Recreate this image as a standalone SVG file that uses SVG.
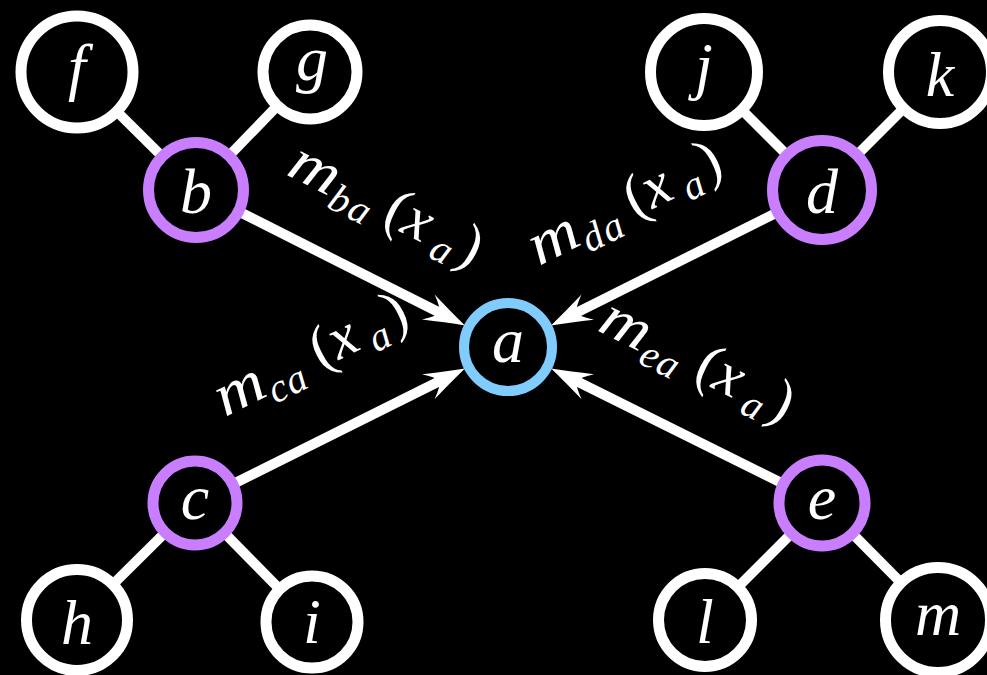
<svg xmlns="http://www.w3.org/2000/svg" width="987" height="675" viewBox="0 0 987 675">
<style>
.bg{fill:#000}
.tree{stroke:#fff;stroke-width:10;fill:none}
.msg{stroke:#fff;stroke-width:10;fill:none;marker-end:url(#ah)}
.wn{fill:#000;stroke:#fff;stroke-width:11}
.pn{fill:#000;stroke:#c87eff;stroke-width:11}
.bn{fill:#000;stroke:#80ccff;stroke-width:10}
.lt{font-family:"Liberation Serif","DejaVu Serif",serif;font-style:italic;font-size:64px;fill:#fff;text-anchor:middle}
.lab{font-family:"Liberation Serif","DejaVu Serif",serif;font-style:italic;font-size:60px;fill:#fff}
.sub{font-size:40px}
.par{font-style:normal}
</style>
<defs>
<marker id="ah" markerUnits="userSpaceOnUse" markerWidth="46" markerHeight="32" viewBox="0 0 46 32" refX="16" refY="16" orient="auto">
<path d="M43,16 Q24,10 2,2 Q12,10 15,16 Q12,22 2,30 Q24,22 43,16 Z" fill="#fff"/>
</marker>
</defs>
<rect class="bg" x="0" y="0" width="987" height="675"/>
<g id="connectors">
<line class="tree" x1="77" y1="72" x2="196" y2="190"/>
<line class="tree" x1="310" y1="72" x2="196" y2="190"/>
<line class="tree" x1="704" y1="72" x2="822" y2="190"/>
<line class="tree" x1="940" y1="72" x2="822" y2="190"/>
<line class="tree" x1="77" y1="620" x2="195" y2="503"/>
<line class="tree" x1="312" y1="622" x2="195" y2="503"/>
<line class="tree" x1="705" y1="620" x2="822" y2="503"/>
<line class="tree" x1="938" y1="620" x2="822" y2="503"/>
<line class="msg" x1="196" y1="190" x2="440.8" y2="313.3"/>
<line class="msg" x1="822" y1="190" x2="575.2" y2="313.4"/>
<line class="msg" x1="195" y1="503" x2="440.8" y2="380.6"/>
<line class="msg" x1="822" y1="503" x2="575.3" y2="380.6"/>
</g>
<g id="labels">
<g transform="translate(285,174) rotate(26.7)">
<text class="lab" x="0" y="0" textLength="50" lengthAdjust="spacingAndGlyphs">m</text>
<text class="lab"><tspan class="sub" x="51" y="11">b</tspan><tspan class="sub" x="73" y="11">a</tspan><tspan class="par" x="107" y="0">(</tspan><tspan x="127" y="0">x</tspan><tspan class="sub" x="164" y="10">a</tspan><tspan class="par" x="189" y="0">)</tspan></text>
</g>
<g transform="translate(539,266) rotate(-26.6)">
<text class="lab" x="0" y="0" textLength="50" lengthAdjust="spacingAndGlyphs">m</text>
<text class="lab"><tspan class="sub" x="51" y="11">d</tspan><tspan class="sub" x="73" y="11">a</tspan><tspan class="par" x="107" y="0">(</tspan><tspan x="127" y="0">x</tspan><tspan class="sub" x="164" y="10">a</tspan><tspan class="par" x="189" y="0">)</tspan></text>
</g>
<g transform="translate(225,417) rotate(-26.5)">
<text class="lab" x="0" y="0" textLength="50" lengthAdjust="spacingAndGlyphs">m</text>
<text class="lab"><tspan class="sub" x="51" y="11">c</tspan><tspan class="sub" x="70" y="11">a</tspan><tspan class="par" x="107" y="0">(</tspan><tspan x="127" y="0">x</tspan><tspan class="sub" x="164" y="10">a</tspan><tspan class="par" x="189" y="0">)</tspan></text>
</g>
<g transform="translate(596,330) rotate(26.5)">
<text class="lab" x="0" y="0" textLength="50" lengthAdjust="spacingAndGlyphs">m</text>
<text class="lab"><tspan class="sub" x="51" y="11">e</tspan><tspan class="sub" x="70" y="11">a</tspan><tspan class="par" x="107" y="0">(</tspan><tspan x="127" y="0">x</tspan><tspan class="sub" x="164" y="10">a</tspan><tspan class="par" x="189" y="0">)</tspan></text>
</g>
</g>
<g id="node-f"><circle class="wn" cx="77" cy="72" r="56"/><text class="lt" x="77" y="88">f</text></g>
<g id="node-g"><circle class="wn" cx="310" cy="72" r="47"/><text class="lt" x="312" y="80">g</text></g>
<g id="node-b"><circle class="pn" cx="196" cy="190" r="47.5"/><text class="lt" x="196" y="213">b</text></g>
<g id="node-j"><circle class="wn" cx="704" cy="72" r="53.5"/><text class="lt" x="704" y="87">j</text></g>
<g id="node-k"><circle class="wn" cx="940" cy="72" r="51.5"/><text class="lt" x="940" y="96">k</text></g>
<g id="node-d"><circle class="pn" cx="822" cy="190" r="49.5"/><text class="lt" x="822" y="213">d</text></g>
<g id="node-a"><circle class="bn" cx="508" cy="347" r="44"/><text class="lt" x="508" y="362">a</text></g>
<g id="node-c"><circle class="pn" cx="195" cy="503" r="42"/><text class="lt" x="195" y="519">c</text></g>
<g id="node-e"><circle class="pn" cx="822" cy="503" r="43"/><text class="lt" x="822" y="519">e</text></g>
<g id="node-h"><circle class="wn" cx="77" cy="620" r="50.5"/><text class="lt" x="77" y="644">h</text></g>
<g id="node-i"><circle class="wn" cx="312" cy="622" r="46"/><text class="lt" x="312" y="643">i</text></g>
<g id="node-l"><circle class="wn" cx="705" cy="620" r="46.5"/><text class="lt" x="705" y="643">l</text></g>
<g id="node-m"><circle class="wn" cx="938" cy="620" r="52.5"/><text class="lt" x="938" y="635">m</text></g>
</svg>
